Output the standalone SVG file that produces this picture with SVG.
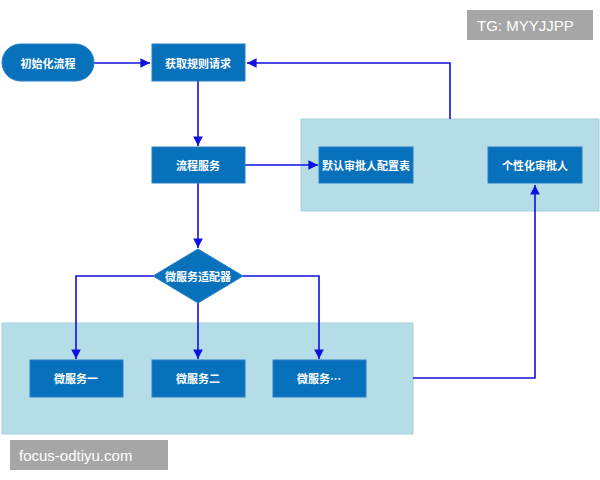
<svg xmlns="http://www.w3.org/2000/svg" width="600" height="480" viewBox="0 0 600 480">
<style>
.n{fill:#0771BC;stroke:#2a7fc4;stroke-width:1}
.t{fill:#fff;font-family:"Noto Sans CJK SC",sans-serif;font-size:11px;font-weight:bold;text-anchor:middle;dominant-baseline:central}
.p{fill:#B5DDE7;stroke:#a3cfdc}
.c{fill:none;stroke:#1010E0;stroke-width:1.6}
.w{fill:#A6A6A6}
.wt{fill:#fff;font-family:"Liberation Sans",sans-serif;font-size:15px;dominant-baseline:central}
</style>
<defs><marker id="a" viewBox="0 0 10 10" refX="10" refY="5" markerWidth="6" markerHeight="6" orient="auto"><path d="M0,0L10,5L0,10z" fill="#1010E0"/></marker></defs>
<rect width="600" height="480" fill="#fff"/>
<g id="panelTop"><rect class="p" x="301" y="119" width="298" height="92"/></g>
<g id="panelBottom"><rect class="p" x="2" y="323" width="411" height="111"/></g>
<g id="connectors">
<path class="c" d="M94,63H150" marker-end="url(#a)"/>
<path class="c" d="M198,81V146" marker-end="url(#a)"/>
<path class="c" d="M245,165H318" marker-end="url(#a)"/>
<path class="c" d="M450,119V63H247" marker-end="url(#a)"/>
<path class="c" d="M198,183V248" marker-end="url(#a)"/>
<path class="c" d="M153,276H76V359" marker-end="url(#a)"/>
<path class="c" d="M198,303V359" marker-end="url(#a)"/>
<path class="c" d="M243,276H319V359" marker-end="url(#a)"/>
<path class="c" d="M413,378H535V185" marker-end="url(#a)"/>
</g>
<g id="start"><rect class="n" x="2" y="44" width="92" height="37" rx="18.5"/><text class="t" x="48" y="63">初始化流程</text></g>
<g id="getRule"><rect class="n" x="152" y="44" width="93" height="37"/><text class="t" x="198" y="63">获取规则请求</text></g>
<g id="flow"><rect class="n" x="152" y="147" width="93" height="36"/><text class="t" x="198" y="165">流程服务</text></g>
<g id="defaultTable"><rect class="n" x="319" y="147" width="94" height="36"/><text class="t" x="366" y="165">默认审批人配置表</text></g>
<g id="personal"><rect class="n" x="488" y="147" width="94" height="36"/><text class="t" x="535" y="165">个性化审批人</text></g>
<g id="adapter"><path class="n" d="M198,249L243,276L198,303L153,276z"/><text class="t" x="198" y="276">微服务适配器</text></g>
<g id="ms1"><rect class="n" x="30" y="360" width="93" height="37"/><text class="t" x="76" y="378">微服务一</text></g>
<g id="ms2"><rect class="n" x="152" y="360" width="93" height="37"/><text class="t" x="198" y="378">微服务二</text></g>
<g id="ms3"><rect class="n" x="273" y="360" width="93" height="37"/><text class="t" x="319" y="378">微服务…</text></g>
<g id="wm1"><rect class="w" x="467" y="10" width="126" height="30"/><text class="wt" x="477" y="25">TG: MYYJJPP</text></g>
<g id="wm2"><rect class="w" x="10" y="440" width="158" height="30"/><text class="wt" x="19" y="455">focus-odtiyu.com</text></g>
</svg>
